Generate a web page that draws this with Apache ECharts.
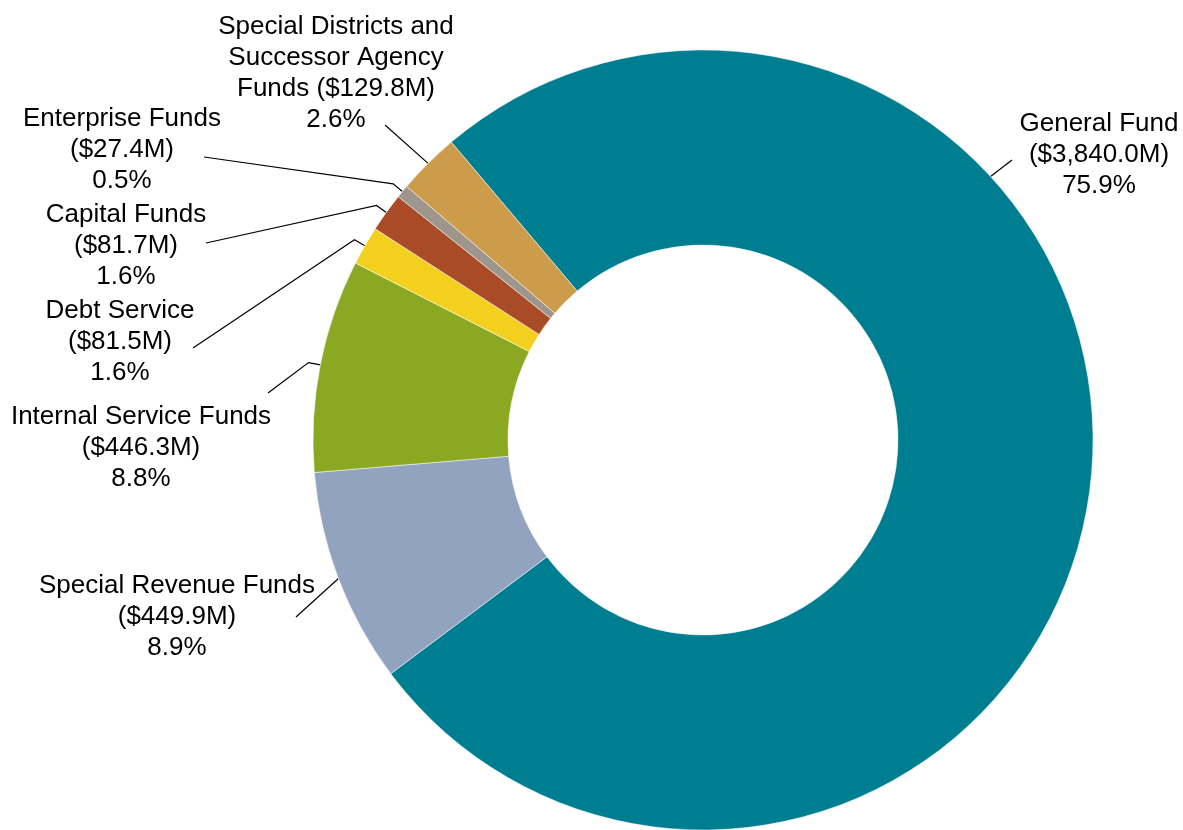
<!DOCTYPE html>
<html>
<head>
<meta charset="utf-8">
<title>Funds by Type</title>
<script src="https://cdn.jsdelivr.net/npm/echarts@6/dist/echarts.min.js"></script>
<style>
  html, body { margin: 0; padding: 0; background: #ffffff; }
  #chart { width: 1183px; height: 830px; }
</style>
</head>
<body>
<div id="chart"></div>
<script>
// Fund categories, in clockwise order starting with the General Fund
const categories = [
  'General Fund',
  'Special Revenue Funds',
  'Internal Service Funds',
  'Debt Service',
  'Capital Funds',
  'Enterprise Funds',
  'Special Districts and\nSuccessor Agency\nFunds'
];
// Amounts in millions of dollars
const amounts = [3840.0, 449.9, 446.3, 81.5, 81.7, 27.4, 129.8];
const sliceColors = ['#007E91', '#92A3C0', '#8AA822', '#F3D01E', '#A84B26', '#9E958C', '#CC9C4A'];

// Label placement: centre x / top y of each text block, where its leader line ends,
// whether the line has a short radial stub, and an optional anchor angle on the rim
const labelSpots = [
  { x: 1099, y: 108, end: [1012, 160], stub: false, rimAngle: 47.5 },
  { x: 177,  y: 570, end: [296, 617],  stub: false },
  { x: 141,  y: 401, end: [268, 393],  stub: true },
  { x: 120,  y: 295, end: [193, 348],  stub: true },
  { x: 126,  y: 199, end: [206, 243],  stub: true },
  { x: 122,  y: 103, end: [204, 157],  stub: true },
  { x: 336,  y: 11,  end: [385, 125],  stub: false }
];

const pieCenter = [703, 440];
const pieRadius = [195, 390];

const chart = echarts.init(document.getElementById('chart'), null, { renderer: 'canvas' });

function money(v) {
  return v.toLocaleString('en-US', { minimumFractionDigits: 1, maximumFractionDigits: 1 });
}

chart.setOption({
  backgroundColor: '#ffffff',
  animation: false,
  series: [{
    type: 'pie',
    center: pieCenter,
    radius: pieRadius,
    startAngle: 130.2,
    clockwise: true,
    avoidLabelOverlap: false,
    itemStyle: { borderColor: '#ffffff', borderWidth: 0.5 },
    label: {
      show: true,
      position: 'outside',
      fontFamily: '"Liberation Sans", Arial, sans-serif',
      fontSize: 26,
      lineHeight: 31,
      color: '#000000',
      align: 'center',
      formatter: function (p) {
        const sep = p.name.indexOf('\n') >= 0 ? ' ' : '\n';
        return p.name + sep + '($' + money(p.value) + 'M)\n' + p.percent.toFixed(1) + '%';
      }
    },
    labelLine: {
      show: true,
      length: 12,
      length2: 10,
      lineStyle: { color: '#000000', width: 1.2 }
    },
    emphasis: { disabled: true },
    labelLayout: function (params) {
      const spot = labelSpots[params.dataIndex];
      const pts = params.labelLinePoints;
      let start = pts ? pts[0] : null;
      let dir = null;
      if (pts) {
        const dx = pts[1][0] - pts[0][0];
        const dy = pts[1][1] - pts[0][1];
        const len = Math.sqrt(dx * dx + dy * dy) || 1;
        dir = [dx / len, dy / len];
      }
      if (spot.rimAngle != null) {
        const a = spot.rimAngle * Math.PI / 180;
        dir = [Math.sin(a), -Math.cos(a)];
        start = [pieCenter[0] + pieRadius[1] * dir[0], pieCenter[1] + pieRadius[1] * dir[1]];
      }
      const line = [start];
      if (spot.stub) {
        line.push([start[0] + dir[0] * 12, start[1] + dir[1] * 12]);
      }
      line.push(spot.end);
      return {
        x: spot.x,
        y: spot.y,
        align: 'center',
        verticalAlign: 'top',
        labelLinePoints: line
      };
    },
    data: categories.map(function (name, i) {
      return { name: name, value: amounts[i], itemStyle: { color: sliceColors[i] } };
    })
  }]
});
</script>
</body>
</html>
